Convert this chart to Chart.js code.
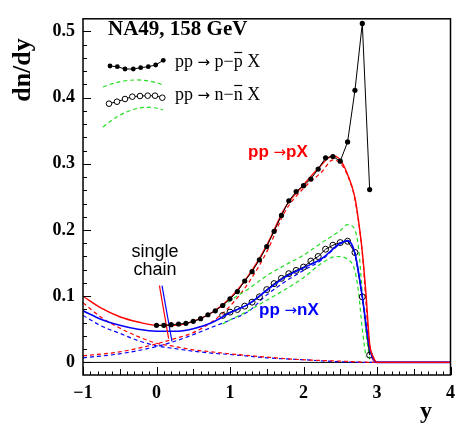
<!DOCTYPE html>
<html>
<head>
<meta charset="utf-8">
<title>dn/dy, NA49 158 GeV</title>
<script src="https://cdn.jsdelivr.net/npm/chart.js"></script>
<style>
  body { margin: 0; background: #fff; }
  #wrap { width: 463px; height: 428px; }
</style>
</head>
<body>
<div id="wrap"><canvas id="dndy" width="463" height="428"></canvas></div>
<script>
// axis tick labels
const xTicks = [-1, 0, 1, 2, 3, 4];
const yTicks = [0, 0.1, 0.2, 0.3, 0.4, 0.5];

// pp -> p - pbar X (filled dots)
const pPbarRap = [0.0, 0.1, 0.2, 0.3, 0.4, 0.5, 0.6, 0.7, 0.8, 0.9, 1.0, 1.1, 1.2, 1.3, 1.4,
                  1.5, 1.6, 1.7, 1.8, 1.9, 2.0, 2.1, 2.2, 2.3, 2.4, 2.5, 2.6, 2.7, 2.8, 2.9];
const pPbarDn  = [0.056, 0.056, 0.057, 0.058, 0.059, 0.062, 0.066, 0.072, 0.078, 0.086, 0.096, 0.107, 0.123, 0.137, 0.155,
                  0.175, 0.198, 0.222, 0.244, 0.258, 0.267, 0.277, 0.292, 0.309, 0.311, 0.304, 0.333, 0.411, 0.512, 0.261];

// pp -> n - nbar X (open circles)
const nNbarRap = [0.9, 1.0, 1.1, 1.2, 1.3, 1.4, 1.5, 1.6, 1.7, 1.8, 1.9, 2.0, 2.1, 2.2, 2.3, 2.4, 2.5, 2.6, 2.7, 2.8, 2.9];
const nNbarDn  = [0.071, 0.076, 0.080, 0.085, 0.091, 0.099, 0.110, 0.119, 0.127, 0.134, 0.139, 0.144, 0.153, 0.160,
                  0.171, 0.177, 0.181, 0.183, 0.166, 0.099, 0.011];

// model pp -> pX (red) and pp -> nX (blue)
const pXRap = [-1, -0.75, -0.5, -0.25, 0, 0.25, 0.5, 0.75, 1.0, 1.25, 1.5, 1.75, 2.0, 2.2, 2.4, 2.5, 2.6, 2.7, 2.75, 2.8, 2.85, 2.9, 2.95, 3.0, 4.0];
const pXDn  = [0.100, 0.082, 0.069, 0.061, 0.056, 0.056, 0.062, 0.075, 0.097, 0.131, 0.177, 0.234, 0.268, 0.293, 0.312, 0.306, 0.284, 0.249, 0.213, 0.167, 0.104, 0.028, 0.008, 0, 0];
const nXRap = [-1, -0.75, -0.5, -0.25, 0, 0.25, 0.5, 0.75, 1.0, 1.25, 1.5, 1.75, 2.0, 2.25, 2.5, 2.6, 2.7, 2.8, 2.9, 3.0, 4.0];
const nXDn  = [0.078, 0.065, 0.056, 0.050, 0.047, 0.047, 0.051, 0.060, 0.075, 0.088, 0.109, 0.129, 0.143, 0.157, 0.180, 0.184, 0.165, 0.099, 0.022, 0, 0];

// single-chain contributions (dashed)
const backRap  = [-1, -0.75, -0.5, -0.25, 0, 0.25, 0.5, 0.75, 1, 1.5, 2, 2.5, 3, 4];
const pBackDn  = [0.090, 0.068, 0.052, 0.039, 0.029, 0.024, 0.019, 0.016, 0.013, 0.008, 0.004, 0.002, 0, 0];
const nBackDn  = [0.071, 0.055, 0.044, 0.033, 0.025, 0.021, 0.017, 0.014, 0.012, 0.007, 0.004, 0.001, 0, 0];
const pFwdRap  = [-1, -0.5, 0, 0.25, 0.5, 0.75, 1, 1.25, 1.5, 1.75, 2, 2.25, 2.4, 2.5, 2.6, 2.7, 2.8, 2.9, 3, 4];
const pFwdDn   = [0.010, 0.016, 0.028, 0.036, 0.045, 0.061, 0.085, 0.120, 0.167, 0.228, 0.263, 0.288, 0.306, 0.301, 0.282, 0.246, 0.165, 0.024, 0, 0];
const nFwdRap  = [-1, -0.5, 0, 0.25, 0.5, 0.75, 1, 1.25, 1.5, 1.75, 2, 2.25, 2.5, 2.6, 2.7, 2.8, 2.9, 3, 4];
const nFwdDn   = [0.007, 0.013, 0.024, 0.032, 0.042, 0.053, 0.064, 0.077, 0.102, 0.122, 0.139, 0.155, 0.179, 0.183, 0.164, 0.098, 0.020, 0, 0];

// error band around pp -> n - nbar X (green dashed)
const bandHiRap = [0.9, 1.0, 1.25, 1.5, 1.75, 2.0, 2.25, 2.5, 2.6, 2.7, 2.75, 2.8, 2.85, 2.9];
const bandHiDn  = [0.084, 0.093, 0.111, 0.131, 0.147, 0.162, 0.181, 0.199, 0.208, 0.200, 0.172, 0.105, 0.045, 0.005];
const bandLoRap = [0.9, 1.0, 1.25, 1.5, 1.75, 2.0, 2.25, 2.45, 2.6, 2.7, 2.75, 2.8, 2.85];
const bandLoDn  = [0.058, 0.064, 0.078, 0.094, 0.110, 0.128, 0.150, 0.160, 0.156, 0.138, 0.105, 0.050, 0.008];

// "single chain" pointers
const chainRedRap = [0.04, 0.165], chainRedDn = [0.116, 0.036];
const chainBlueRap = [0.075, 0.21], chainBlueDn = [0.116, 0.032];

const RED = '#ff0000', BLUE = '#0000ff', GREEN = '#22dd22';

function pts(xs, ys) {
  return xs.map((v, i) => ({ x: v, y: ys[i] }));
}

function curve(xs, ys, color, width, dash, order) {
  return {
    data: pts(xs, ys), showLine: true, borderColor: color, borderWidth: width,
    borderDash: dash || [], pointRadius: 0, cubicInterpolationMode: 'monotone', order: order
  };
}

const datasets = [
  { data: pts([-1, 4], [0, 0]), showLine: true, borderColor: '#000', borderWidth: 1, pointRadius: 0, order: 20 },
  curve(backRap, pBackDn, RED, 1.2, [4, 3], 12),
  curve(backRap, nBackDn, BLUE, 1.2, [4, 3], 12),
  curve(pFwdRap, pFwdDn, RED, 1.2, [4, 3], 11),
  curve(nFwdRap, nFwdDn, BLUE, 1.2, [4, 3], 11),
  curve(bandHiRap, bandHiDn, GREEN, 1.2, [4, 3], 10),
  curve(bandLoRap, bandLoDn, GREEN, 1.2, [4, 3], 10),
  curve(nXRap, nXDn, BLUE, 1.6, null, 7),
  curve(pXRap, pXDn, RED, 1.4, null, 6),
  { data: pts(chainRedRap, chainRedDn), showLine: true, borderColor: RED, borderWidth: 1.2, pointRadius: 0, order: 5 },
  { data: pts(chainBlueRap, chainBlueDn), showLine: true, borderColor: BLUE, borderWidth: 1.2, pointRadius: 0, order: 5 },
  { data: pts(nNbarRap, nNbarDn), showLine: true, borderColor: '#000', borderWidth: 1,
    pointRadius: 3, pointBorderColor: '#000', pointBorderWidth: 1, pointBackgroundColor: 'rgba(0,0,0,0)', order: 8 },
  { data: pts(pPbarRap, pPbarDn), showLine: true, borderColor: '#000', borderWidth: 1,
    pointRadius: 2.6, pointBorderWidth: 0, pointBackgroundColor: '#000', order: 2 }
];

// writes a run of [text, font] pieces left to right, returns the end x
function writeRun(ctx, pieces, x0, base) {
  let cx = x0;
  pieces.forEach(([txt, font, bar]) => {
    ctx.font = font;
    const w = ctx.measureText(txt).width;
    ctx.fillText(txt, cx, base);
    if (bar) {
      ctx.beginPath();
      ctx.moveTo(cx + 0.5, base - 14.5);
      ctx.lineTo(cx + w - 0.5, base - 14.5);
      ctx.stroke();
    }
    cx += w;
  });
  return cx;
}

// frame, inward ticks, titles and legend
const decorations = {
  id: 'decorations',
  afterDraw(chart) {
    const { ctx, chartArea: a, scales: { x, y } } = chart;
    ctx.save();
    ctx.strokeStyle = '#000';
    ctx.lineWidth = 1.5;
    ctx.strokeRect(a.left, a.top, a.right - a.left, a.bottom - a.top);

    ctx.lineWidth = 1;
    ctx.beginPath();
    for (let i = -10; i <= 40; i++) {
      const px = Math.round(x.getPixelForValue(i / 10)) + 0.5;
      const len = i % 10 === 0 ? 8 : (i % 5 === 0 ? 6 : 3.5);
      ctx.moveTo(px, a.bottom);
      ctx.lineTo(px, a.bottom - len);
    }
    for (let j = 0; j <= 25; j++) {
      const py = Math.round(y.getPixelForValue(j / 50)) + 0.5;
      const len = j % 5 === 0 ? 8 : 4;
      ctx.moveTo(a.left, py);
      ctx.lineTo(a.left + len, py);
    }
    ctx.stroke();

    // axis titles
    ctx.fillStyle = '#000';
    ctx.font = 'bold 26px "Liberation Serif"';
    ctx.save();
    ctx.translate(30, 70);
    ctx.rotate(-Math.PI / 2);
    ctx.textAlign = 'center';
    ctx.fillText('dn/dy', 0, 0);
    ctx.restore();
    ctx.font = 'bold 24px "Liberation Serif"';
    ctx.textAlign = 'center';
    ctx.fillText('y', 426, 418);

    // heading
    ctx.textAlign = 'left';
    ctx.font = 'bold 21px "Liberation Serif"';
    ctx.fillText('NA49, 158 GeV', 108, 35);

    // legend samples
    ctx.lineWidth = 1;
    ctx.strokeStyle = '#000';
    const dots = [[110, 66], [117.3, 66.7], [125, 69], [133.3, 69], [140.7, 67.7], [148.3, 66.7], [155.7, 65], [163.3, 60.3]];
    ctx.beginPath();
    dots.forEach(([px, py], i) => i ? ctx.lineTo(px, py) : ctx.moveTo(px, py));
    ctx.stroke();
    dots.forEach(([px, py]) => { ctx.beginPath(); ctx.arc(px, py, 2.4, 0, Math.PI * 2); ctx.fill(); });

    const rings = [[109, 103.7], [117, 101.7], [125, 99], [132.3, 96.7], [140, 96], [147.7, 95.7], [155, 95.7], [162.3, 97.7]];
    ctx.beginPath();
    rings.forEach(([px, py], i) => i ? ctx.lineTo(px, py) : ctx.moveTo(px, py));
    ctx.stroke();
    rings.forEach(([px, py]) => { ctx.beginPath(); ctx.arc(px, py, 2.8, 0, Math.PI * 2); ctx.fillStyle = '#fff'; ctx.fill(); ctx.stroke(); });

    ctx.strokeStyle = GREEN;
    ctx.lineWidth = 1.2;
    ctx.setLineDash([4, 3]);
    ctx.beginPath();
    ctx.moveTo(103, 87);
    ctx.quadraticCurveTo(135, 74, 163, 85);
    ctx.moveTo(103, 127);
    ctx.quadraticCurveTo(135, 100, 163, 110);
    ctx.stroke();
    ctx.setLineDash([]);

    // legend text with barred antiparticles
    ctx.fillStyle = '#000';
    ctx.strokeStyle = '#000';
    const serif = '18px "Liberation Serif"';
    const arrowFont = '15px "DejaVu Sans"';
    writeRun(ctx, [['pp ', serif], ['\u2192', arrowFont], [' p\u2212', serif], ['p', serif, true], [' X', serif]], 175, 67);
    writeRun(ctx, [['pp ', serif], ['\u2192', arrowFont], [' n\u2212', serif], ['n', serif, true], [' X', serif]], 175, 100);

    // model labels
    const sans = 'bold 17px "Liberation Sans"';
    const sansArrow = '15px "DejaVu Sans"';
    ctx.fillStyle = RED;
    writeRun(ctx, [['pp ', sans], ['\u2192', sansArrow], ['pX', sans]], 248, 157);
    ctx.fillStyle = BLUE;
    writeRun(ctx, [['pp ', sans], ['\u2192', sansArrow], ['nX', sans]], 259, 315);

    ctx.fillStyle = '#000';
    ctx.font = '18px "Liberation Sans"';
    ctx.textAlign = 'center';
    ctx.fillText('single', 155, 257);
    ctx.fillText('chain', 155, 275);
    ctx.restore();
  }
};

const tickFont = { family: 'Liberation Serif', weight: 'bold', size: 18 };

new Chart(document.getElementById('dndy'), {
  type: 'scatter',
  data: { datasets: datasets },
  options: {
    responsive: false,
    animation: false,
    layout: { padding: { top: 4, right: 8, left: 0, bottom: 0 } },
    plugins: { legend: { display: false }, tooltip: { enabled: false } },
    scales: {
      x: {
        type: 'linear', min: -1, max: 4,
        afterBuildTicks: s => { s.ticks = xTicks.map(v => ({ value: v })); },
        afterFit: s => { s.height = 53; },
        grid: { display: false, drawTicks: false },
        border: { display: false },
        ticks: {
          color: '#000', font: tickFont, padding: 8, maxRotation: 0, autoSkip: false,
          callback: v => (v < 0 ? '\u2212' + Math.abs(v) : String(v))
        }
      },
      y: {
        type: 'linear', min: -0.019, max: 0.519,
        afterBuildTicks: s => { s.ticks = yTicks.map(v => ({ value: v })); },
        afterFit: s => { s.width = 83; },
        grid: { display: false, drawTicks: false },
        border: { display: false },
        ticks: {
          color: '#000', font: tickFont, padding: 8, autoSkip: false,
          callback: v => (v === 0 ? '0' : v.toFixed(1))
        }
      }
    }
  },
  plugins: [decorations]
});
</script>
</body>
</html>
